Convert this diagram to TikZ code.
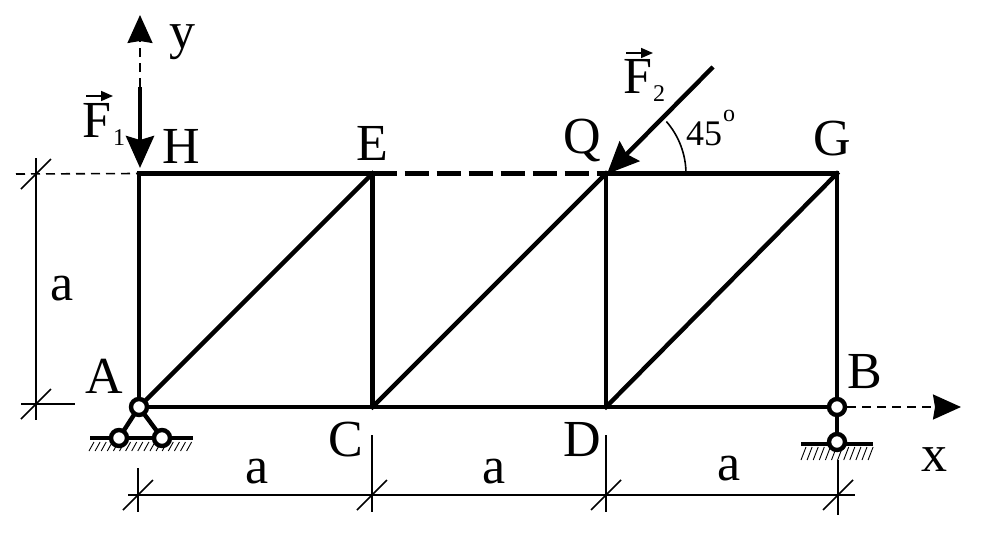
\documentclass[tikz,border=0pt]{standalone}
\usepackage{fontspec}
\setmainfont{Liberation Serif}
\usetikzlibrary{arrows.meta}

\begin{document}
\begin{tikzpicture}[
		x=0.5pt, y=0.5pt, node distance=116.75pt,
		joint/.style={coordinate},
		pin/.style={circle,draw,fill=white,line width=2.2pt,inner sep=0pt,minimum size=8pt},
		member/.style={line width=2.2pt,line cap=rect},
		ground/.style={line width=2.2pt},
		hatch/.style={line width=0.45pt},
		dimline/.style={line width=0.8pt},
		axis/.style={line width=1pt,dash pattern=on 4.5pt off 3pt,
			-{Stealth[length=14pt,width=12.5pt,inset=1pt]}},
		force/.style={line width=2.2pt,-{Stealth[length=16pt,width=14pt,inset=2pt]}},
		veclabel/.style={line width=0.8pt,-{Stealth[length=6pt,width=5pt,inset=0pt]}},
		lab/.style={font=\fontsize{26}{26}\selectfont,inner sep=0pt,anchor=base},
		anglab/.style={font=\fontsize{18}{18}\selectfont,inner sep=0pt,anchor=base},
		sublab/.style={font=\fontsize{12}{12}\selectfont,inner sep=0pt,anchor=base}
		]
		\useasboundingbox (0,0) rectangle (996,548);
		
		% truss joints
		\node[joint](A) at (139,141){};
		\node[joint, above of = A](H){};
		\node[joint, right of = A](C){};
		\node[joint, right of = C](D){};
		\node[joint, right of = H](E){};
		\node[joint, right of = E](Q){};
		\node[joint, right of = Q, xshift = -1.25pt](G){};
		\node[joint, below of = G](B){};
		
		% supports
		\node[joint](A1) at (119,110){};
		\node[joint](A2) at (162,110){};
		\node[joint](B1) at (837,106){};
		\node[joint](GA1) at (90,110){};
		\node[joint](GA2) at (193,110){};
		\node[joint](GB1) at (801,104){};
		\node[joint](GB2) at (873,104){};
		
		% dimension points
		\node[joint](L0) at (16,374){};
		\node[joint](L1) at (36,390){};
		\node[joint](L2) at (36,128){};
		\node[joint](LH) at (36,374){};
		\node[joint](LA) at (36,144){};
		\node[joint](LA1) at (21,144){};
		\node[joint](LA2) at (75,144){};
		\node[joint](B0) at (128,53){};
		\node[joint](B4) at (855,53){};
		\node[joint](DA) at (138,53){};
		\node[joint](DC) at (372,53){};
		\node[joint](DD) at (606,53){};
		\node[joint](DB) at (838,53){};
		\node[joint](TA1) at (138,80){};
		\node[joint](TA2) at (138,36){};
		\node[joint](TC1) at (372,113){};
		\node[joint](TC2) at (372,36){};
		\node[joint](TD1) at (606,113){};
		\node[joint](TD2) at (606,36){};
		\node[joint](TB1) at (838,88){};
		\node[joint](TB2) at (838,33){};
		
		% axes and forces
		\node[joint](F1s) at (140,461){};
		\node[joint](Yt) at (140,533){};
		\node[joint](F1e) at (140,380){};
		\node[joint](Xt) at (961,141){};
		\node[joint](F2s) at (713,481){};
		\node[joint](F2e) at (607,374){};
		
		\foreach \x in {0,...,16}
			\draw[hatch] (89+6.1*\x,97) -- (94+6.1*\x,106);
		\foreach \x in {0,...,11}
			\draw[hatch] (801+6.1*\x,88) -- (806+6.1*\x,101);
		
		\draw[ground] (GA1) -- (GA2);
		\draw[ground] (GB1) -- (GB2);
		
		\draw[dimline] (L1) -- (L2);
		\draw[dimline] (LA1) -- (LA2);
		\draw[dimline, dash pattern=on 4.5pt off 3pt] (L0) -- (H);
		\draw[dimline] (B0) -- (B4);
		\draw[dimline] (TA1) -- (TA2);
		\draw[dimline] (TC1) -- (TC2);
		\draw[dimline] (TD1) -- (TD2);
		\draw[dimline] (TB1) -- (TB2);
		\foreach \p in {LH,LA,DA,DC,DD,DB}
			\draw[dimline] ([shift={(-7.5pt,-7.5pt)}]\p) -- ([shift={(7.5pt,7.5pt)}]\p);
		
		\draw[member] (A) -- (H);
		\draw[member] (H) -- (E);
		\draw[member, line cap=butt, dash pattern=on 12pt off 4pt] (E) -- (Q);
		\draw[member] (Q) -- (G);
		\draw[member] (A) -- (B);
		\draw[member] (C) -- (E);
		\draw[member] (D) -- (Q);
		\draw[member] (B) -- (G);
		\draw[member] (A) -- (E);
		\draw[member] (C) -- (Q);
		\draw[member] (D) -- (G);
		
		\draw[line width=2.2pt] (A) -- (A1);
		\draw[line width=2.2pt] (A) -- (A2);
		\draw[line width=2.2pt] (B) -- (B1);
		\node[pin] (PA) at (A){};
		\node[pin] (PA1) at (A1){};
		\node[pin] (PA2) at (A2){};
		\node[pin] (PB) at (B){};
		\node[pin] (PB1) at (B1){};
		
		\draw[axis] (F1s) -- (Yt);
		\draw[axis] (PB) -- (Xt);
		\draw[force] (F1s) -- (F1e);
		\draw[force] (F2s) -- (F2e);
		\draw[line width=0.8pt] (686,374) arc[start angle=0, end angle=41, radius=80];
		
		\node[lab](LabH) at (181,385){H};
		\node[lab](LabE) at (372,388){E};
		\node[lab](LabQ) at (582,395){Q};
		\node[lab](LabG) at (832,393){G};
		\node[lab](LabA) at (104,155){A};
		\node[lab](LabB) at (865,160){B};
		\node[lab](LabC) at (346,92){C};
		\node[lab](LabD) at (582,92){D};
		\node[lab](LabX) at (934,77){x};
		\node[lab](LabY) at (182,500){y};
		\node[lab](LabLeft) at (62,248){a};
		\node[lab](LabAC) at (257,65){a};
		\node[lab](LabCD) at (494,65){a};
		\node[lab](LabDB) at (729,68){a};
		\node[lab](LabF1) at (97,411){F};
		\node[sublab](SubF1) at (119,403){1};
		\node[lab](LabF2) at (638,455){F};
		\node[sublab](SubF2) at (659,447){2};
		\node[anglab](Lab45) at (704,403){45};
		\node[sublab](SubDeg) at (729,427){o};
		\node[joint](V1a) at (86,452){};
		\node[joint](V1b) at (113,452){};
		\node[joint](V2a) at (626,495){};
		\node[joint](V2b) at (653,495){};
		\draw[veclabel] (V1a) -- (V1b);
		\draw[veclabel] (V2a) -- (V2b);
	\end{tikzpicture}
\end{document}
